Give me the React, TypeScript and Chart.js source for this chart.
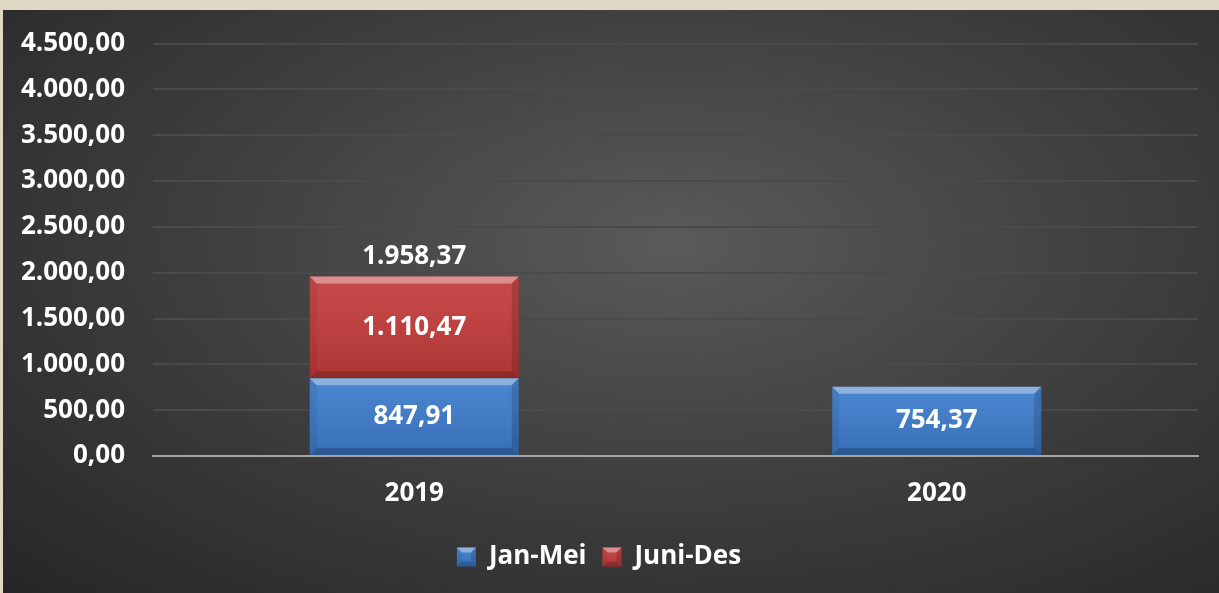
import React, { useEffect, useRef } from "react";
import { Chart, registerables } from "chart.js";

Chart.register(...registerables);

const categories = ["2019", "2020"];
const seriesNames = ["Jan-Mei", "Juni-Des"];
const janMei = [847.91, 754.37];
const juniDes: (number | null)[] = [1110.47, null];
const totals: (number | null)[] = [1958.37, null];
const yMin = 0;
const yMax = 4500;
const yStep = 500;

const BLUE = "#3c7bcb";
const RED = "#c23b3a";
const FONT = "'Open Sans', 'Noto Sans', sans-serif";
const FS = 26;

function fmt(v: number): string {
  const [i, d] = Math.abs(v).toFixed(2).split(".");
  const withSep = i.replace(/\B(?=(\d{3})+(?!\d))/g, ".");
  return (v < 0 ? "-" : "") + withSep + "," + d;
}

function bevel(ctx: CanvasRenderingContext2D, l: number, t: number, r: number, b: number, s: number) {
  const g = ctx.createLinearGradient(0, t, 0, b);
  g.addColorStop(0, "rgba(255,255,255,0.08)");
  g.addColorStop(1, "rgba(0,0,0,0.10)");
  ctx.fillStyle = g;
  ctx.fillRect(l, t, r - l, b - t);
  const poly = (pts: number[][], c: string) => {
    ctx.beginPath();
    ctx.moveTo(pts[0][0], pts[0][1]);
    for (let k = 1; k < pts.length; k++) ctx.lineTo(pts[k][0], pts[k][1]);
    ctx.closePath();
    ctx.fillStyle = c;
    ctx.fill();
  };
  poly([[l, t], [r, t], [r - s, t + s], [l + s, t + s]], "rgba(255,255,255,0.38)");
  poly([[l, b], [r, b], [r - s, b - s], [l + s, b - s]], "rgba(0,0,0,0.2)");
  poly([[l, t], [l + s, t + s], [l + s, b - s], [l, b]], "rgba(0,0,0,0.06)");
  poly([[r, t], [r - s, t + s], [r - s, b - s], [r, b]], "rgba(0,0,0,0.14)");
}

const decorPlugin = {
  id: "decor",
  afterDatasetsDraw(chart: any) {
    const ctx: CanvasRenderingContext2D = chart.ctx;
    ctx.save();
    chart.data.datasets.forEach((ds: any, di: number) => {
      const meta = chart.getDatasetMeta(di);
      meta.data.forEach((el: any, i: number) => {
        const v = ds.data[i];
        if (v == null) return;
        const p = el.getProps(["x", "y", "base", "width"], true);
        const l = p.x - p.width / 2;
        const r = p.x + p.width / 2;
        const t = Math.min(p.y, p.base);
        const b = Math.max(p.y, p.base);
        bevel(ctx, l, t, r, b, 7);
      });
    });
    ctx.fillStyle = "#ffffff";
    ctx.font = `bold ${FS}px ${FONT}`;
    ctx.textAlign = "center";
    ctx.textBaseline = "middle";
    chart.data.datasets.forEach((ds: any, di: number) => {
      const meta = chart.getDatasetMeta(di);
      meta.data.forEach((el: any, i: number) => {
        const v = ds.data[i];
        if (v == null) return;
        const p = el.getProps(["x", "y", "base"], true);
        ctx.fillText(fmt(v), p.x, (p.y + p.base) / 2);
      });
    });
    const lastMeta = chart.getDatasetMeta(chart.data.datasets.length - 1);
    totals.forEach((tv, i) => {
      if (tv == null) return;
      const el = lastMeta.data[i];
      const p = el.getProps(["x", "y"], true);
      ctx.fillText(fmt(tv), p.x, p.y - 20);
    });
    ctx.restore();
  },
  afterDraw(chart: any) {
    const lg = chart.legend;
    if (!lg || !lg.legendHitBoxes) return;
    const ctx: CanvasRenderingContext2D = chart.ctx;
    ctx.save();
    lg.legendHitBoxes.forEach((hb: any) => {
      const s = 19;
      const l = hb.left;
      const t = hb.top + (hb.height - s) / 2;
      bevel(ctx, l, t, l + s, t + s, 5);
    });
    ctx.restore();
  },
};

export default function App() {
  const ref = useRef<HTMLCanvasElement>(null);
  useEffect(() => {
    if (!ref.current) return;
    const chart = new Chart(ref.current, {
      type: "bar",
      data: {
        labels: categories,
        datasets: [
          { label: seriesNames[0], data: janMei, backgroundColor: BLUE, borderWidth: 0 },
          { label: seriesNames[1], data: juniDes, backgroundColor: RED, borderWidth: 0 },
        ],
      },
      options: {
        responsive: false,
        animation: false,
        devicePixelRatio: 1,
        layout: { padding: { top: 42, right: 21, bottom: 13, left: 0 } },
        datasets: { bar: { barPercentage: 0.4, categoryPercentage: 1.0 } },
        scales: {
          x: {
            stacked: true,
            grid: { display: false, drawTicks: false },
            border: { display: true, color: "#a3a3a3", width: 2 },
            ticks: { color: "#ffffff", font: { family: FONT, size: FS, weight: "bold" }, padding: 22 },
            afterFit: (s: any) => { s.height = 72; },
          },
          y: {
            stacked: true,
            min: yMin,
            max: yMax,
            ticks: {
              stepSize: yStep,
              color: "#ffffff",
              font: { family: FONT, size: FS, weight: "bold" },
              padding: 28,
              callback: (v: any) => fmt(Number(v)),
            },
            grid: { color: "#4a4a4a", lineWidth: 2, drawTicks: false },
            border: { display: false },
            afterFit: (s: any) => { s.width = 153; },
          },
        },
        plugins: {
          legend: {
            position: "bottom",
            labels: {
              color: "#ffffff",
              font: { family: FONT, size: FS, weight: "bold" },
              boxWidth: 19,
              boxHeight: 19,
              padding: 16,
            },
          },
          tooltip: { enabled: false },
        },
      },
      plugins: [decorPlugin],
    } as any);
    return () => chart.destroy();
  }, []);

  return (
    <div style={{ position: "fixed", left: 0, top: 0, width: 1219, height: 593, background: "#ded8c4", overflow: "hidden" }}>
      <div
        style={{
          position: "absolute",
          left: 3,
          top: 10,
          width: 1216,
          height: 583,
          background: "radial-gradient(ellipse at 55% 40%, #5a5a5a 0%, #3e3e3e 50%, #262626 100%)",
        }}
      />
      <canvas ref={ref} width={1219} height={593} style={{ position: "absolute", left: 0, top: 0, width: 1219, height: 593 }} />
    </div>
  );
}
